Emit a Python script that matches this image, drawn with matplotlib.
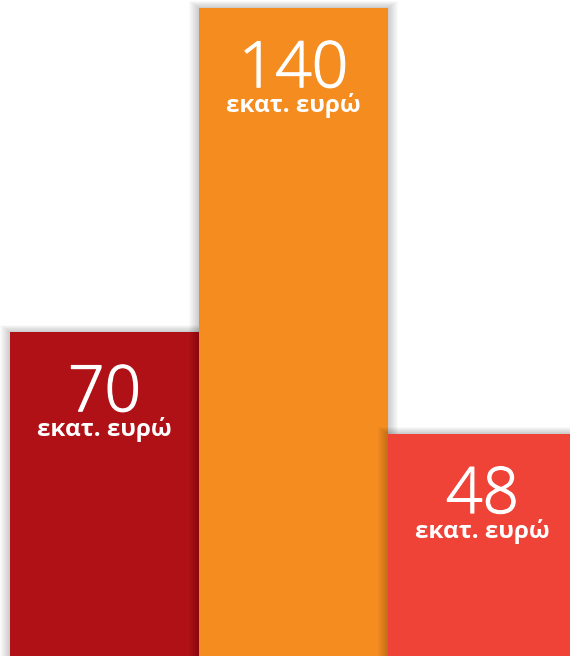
import matplotlib
matplotlib.use("Agg")
import matplotlib.pyplot as plt
import matplotlib.patheffects as pe

# values (million euro)
values = [70, 140, 48]
labels = ["70", "140", "48"]
unit = "εκατ. ευρώ"
colors = ["#B01117", "#F48C20", "#EF4338"]

W, H = 570, 656
fig = plt.figure(figsize=(W / 100, H / 100), dpi=100)
ax = fig.add_axes([0, 0, 1, 1])

px_x = 189.0            # pixels per bar slot
px_y = 648.0 / 140      # pixels per unit
x_left = -0.5 - 10 / px_x
ax.set_xlim(x_left, x_left + W / px_x)
ax.set_ylim(0, H / px_y)
ax.axis("off")

xs = list(range(len(values)))

for i, (x, v, c) in enumerate(zip(xs, values, colors)):
    z = 2 * i + 1
    # soft shadow: stacked translucent bars, slightly larger each step
    for e in range(1, 11):
        ax.bar(x, v + e * 0.7 / px_y, width=1 + 2 * e / px_x, bottom=0,
               color="black", alpha=0.02, linewidth=0, zorder=z)
    ax.bar(x, v, width=1.0, color=c, linewidth=0, zorder=z + 0.5)
    ax.annotate(labels[i], (x, v), xytext=(0, -57), textcoords="offset points",
                ha="center", va="baseline", color="white", fontsize=46,
                family="Open Sans", fontweight="light", zorder=20,
                path_effects=[pe.withStroke(linewidth=0.9, foreground="white")])
    ax.annotate(unit, (x, v), xytext=(0, -75), textcoords="offset points",
                ha="center", va="baseline", color="white", fontsize=17.5,
                family="Open Sans", fontweight="bold", zorder=20)

fig.savefig("out.png", dpi=100)
